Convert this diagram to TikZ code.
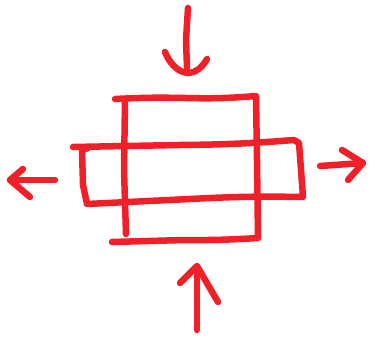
\documentclass[tikz,border=0pt]{standalone}
\usepackage{tikz}
\definecolor{marker}{RGB}{240,32,40}
\begin{document}
\begin{tikzpicture}[x=1pt,y=-1pt,line join=round,line cap=round,pen/.style={draw=marker,line width=6.5pt}]
	\useasboundingbox (0,0) rectangle (377,339);
	% tall box
	\draw[pen] (115,99) to[bend left=2] (185,98) to[bend right=3] (256,96) -- (257,160) -- (258,238)
	  to[bend left=2] (185,240) -- (112,242);
	\draw[pen] (125,101) -- (124,170) -- (126,234);
	% wide box
	\draw[pen] (73,147) -- (180,145) to[bend right=2] (294,140) -- (299,143) -- (303,197)
	  to[bend right=2] (190,199) -- (87,204) -- (83,185) -- (82,150) -- (88,148);
	% arrows
	\draw[pen] (188,8) -- (186,40) -- (187,68);
	\draw[pen] (165,52) .. controls (174,74) and (194,82) .. (207,59);
	\draw[pen] (197,330) -- (197,267);
	\draw[pen] (180,283) -- (197,266) -- (218,302);
	\draw[pen] (55,180) -- (10,180);
	\draw[pen] (23,169) -- (10,180) -- (30,197);
	\draw[pen] (320,166) -- (363,163);
	\draw[pen] (342,150) -- (363,163) -- (348,180);
\end{tikzpicture}
\end{document}
